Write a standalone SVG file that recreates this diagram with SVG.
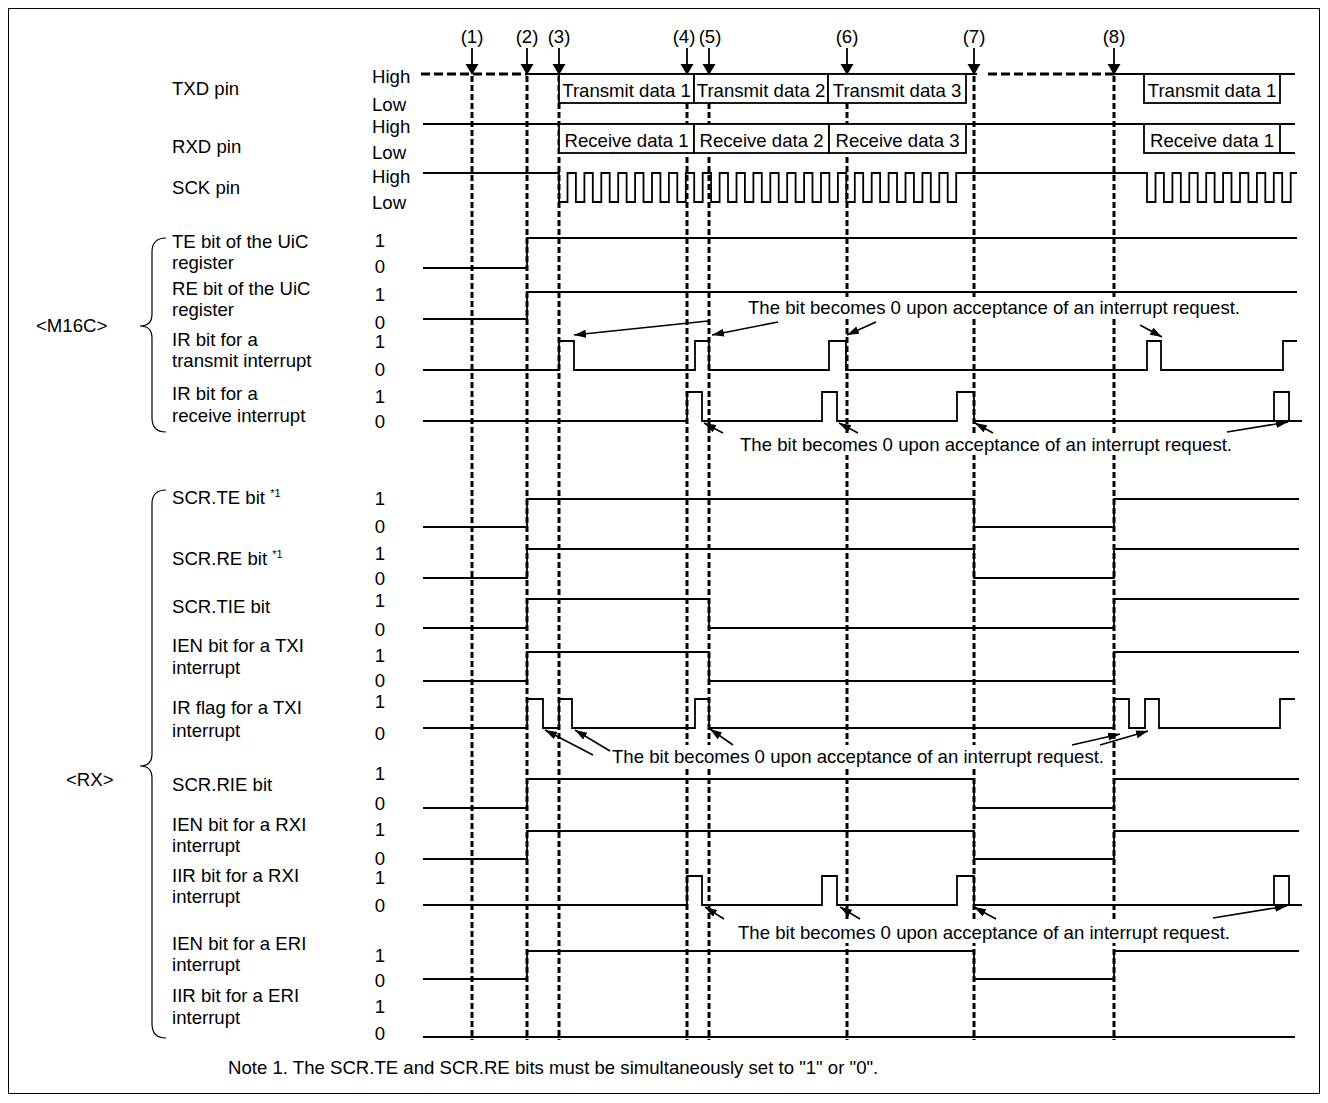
<svg xmlns="http://www.w3.org/2000/svg" width="1328" height="1103" viewBox="0 0 1328 1103">
<style>
text{font-family:"Liberation Sans",Arial,sans-serif;font-size:18.6px;fill:#000}
.num{text-anchor:middle}
.sup{font-size:11px}
.sig{fill:none;stroke:#000;stroke-width:1.8}
.vd{fill:none;stroke:#000;stroke-width:3;stroke-dasharray:6 3}
.hd{fill:none;stroke:#000;stroke-width:3;stroke-dasharray:9 4}
.box{fill:#fff;stroke:#000;stroke-width:1.8}
.bg{fill:#fff;stroke:none}
.ar{fill:none;stroke:#000;stroke-width:1.6;marker-end:url(#ah)}
.brace{fill:none;stroke:#000;stroke-width:1.2}
</style>
<defs>
<marker id="ah" viewBox="0 0 12 8" refX="12" refY="4" markerWidth="12" markerHeight="8" orient="auto" markerUnits="userSpaceOnUse"><path d="M0,0 L12,4 L0,8 z" fill="#000"/></marker>
</defs>
<rect x="8.5" y="8.5" width="1311" height="1085" fill="#fff" stroke="#000" stroke-width="1"/>

<g id="timing-markers">
<text class="num" x="472" y="43">(1)</text>
<text class="num" x="527" y="43">(2)</text>
<text class="num" x="559" y="43">(3)</text>
<text class="num" x="684" y="43">(4)</text>
<text class="num" x="710" y="43">(5)</text>
<text class="num" x="847" y="43">(6)</text>
<text class="num" x="974" y="43">(7)</text>
<text class="num" x="1114" y="43">(8)</text>
<path class="vd" d="M472,76 V1040 M527,76 V1040 M559,76 V1040 M687,76 V1040 M709,76 V1040 M847,76 V1040 M974,76 V1040 M1114,76 V1040"/>
<path d="M472,48 V65 M527,48 V65 M559,48 V65 M687,48 V65 M709,48 V65 M847,48 V65 M974,48 V65 M1114,48 V65" stroke="#000" stroke-width="1.8"/>
<path d="M465.5,64 h13 l-6.5,11 z M520.5,64 h13 l-6.5,11 z M552.5,64 h13 l-6.5,11 z M680.5,64 h13 l-6.5,11 z M702.5,64 h13 l-6.5,11 z M840.5,64 h13 l-6.5,11 z M967.5,64 h13 l-6.5,11 z M1107.5,64 h13 l-6.5,11 z" fill="#000"/>
</g>

<g id="labels">
<text x="172" y="95">TXD pin</text>
<text x="172" y="153">RXD pin</text>
<text x="172" y="194">SCK pin</text>
<text x="172" y="248">TE bit of the UiC</text>
<text x="172" y="269">register</text>
<text x="172" y="295">RE bit of the UiC</text>
<text x="172" y="316">register</text>
<text x="172" y="346">IR bit for a</text>
<text x="172" y="367">transmit interrupt</text>
<text x="172" y="400">IR bit for a</text>
<text x="172" y="422">receive interrupt</text>
<text x="172" y="504">SCR.TE bit <tspan class="sup" dy="-7">*1</tspan></text>
<text x="172" y="565">SCR.RE bit <tspan class="sup" dy="-7">*1</tspan></text>
<text x="172" y="613">SCR.TIE bit</text>
<text x="172" y="652">IEN bit for a TXI</text>
<text x="172" y="674">interrupt</text>
<text x="172" y="714">IR flag for a TXI</text>
<text x="172" y="737">interrupt</text>
<text x="172" y="791">SCR.RIE bit</text>
<text x="172" y="831">IEN bit for a RXI</text>
<text x="172" y="852">interrupt</text>
<text x="172" y="882">IIR bit for a RXI</text>
<text x="172" y="903">interrupt</text>
<text x="172" y="950">IEN bit for a ERI</text>
<text x="172" y="971">interrupt</text>
<text x="172" y="1002">IIR bit for a ERI</text>
<text x="172" y="1024">interrupt</text>
<text x="36" y="332">&lt;M16C&gt;</text>
<text x="66" y="786">&lt;RX&gt;</text>
<path class="brace" d="M166,238 Q152,238 152,252 L152,314 Q152,326 140,326 Q152,326 152,338 L152,418 Q152,432 166,432"/>
<path class="brace" d="M166,490 Q152,490 152,504 L152,754 Q152,766 140,766 Q152,766 152,778 L152,1024 Q152,1038 166,1038"/>
<text x="228" y="1074">Note 1. The SCR.TE and SCR.RE bits must be simultaneously set to "1" or "0".</text>
</g>

<g id="levels">
<text x="372" y="83">High</text><text x="372" y="111">Low</text>
<text x="372" y="133">High</text><text x="372" y="159">Low</text>
<text x="372" y="183">High</text><text x="372" y="209">Low</text>
<text class="num" x="380" y="247">1</text><text class="num" x="380" y="273">0</text>
<text class="num" x="380" y="301">1</text><text class="num" x="380" y="329">0</text>
<text class="num" x="380" y="348">1</text><text class="num" x="380" y="376">0</text>
<text class="num" x="380" y="403">1</text><text class="num" x="380" y="428">0</text>
<text class="num" x="380" y="505">1</text><text class="num" x="380" y="533">0</text>
<text class="num" x="380" y="560">1</text><text class="num" x="380" y="585">0</text>
<text class="num" x="380" y="607">1</text><text class="num" x="380" y="636">0</text>
<text class="num" x="380" y="662">1</text><text class="num" x="380" y="687">0</text>
<text class="num" x="380" y="708">1</text><text class="num" x="380" y="740">0</text>
<text class="num" x="380" y="780">1</text><text class="num" x="380" y="810">0</text>
<text class="num" x="380" y="836">1</text><text class="num" x="380" y="865">0</text>
<text class="num" x="380" y="884">1</text><text class="num" x="380" y="912">0</text>
<text class="num" x="380" y="962">1</text><text class="num" x="380" y="987">0</text>
<text class="num" x="380" y="1013">1</text><text class="num" x="380" y="1040">0</text>
</g>

<g id="txd">
<path class="hd" d="M421,74 H527 M988,74 H1114"/>
<path class="sig" d="M527,74 H977 M1114,74 H1295"/>
<rect class="box" x="559" y="74" width="135" height="29"/>
<rect class="box" x="694" y="74" width="134" height="29"/>
<rect class="box" x="828" y="74" width="138" height="29"/>
<rect class="box" x="1144" y="74" width="136" height="29"/>
<text class="num" x="626.5" y="97">Transmit data 1</text>
<text class="num" x="761" y="97">Transmit data 2</text>
<text class="num" x="897" y="97">Transmit data 3</text>
<text class="num" x="1212" y="97">Transmit data 1</text>
</g>

<g id="rxd">
<path class="sig" d="M423,124 H1295 M1280,153 H1295"/>
<rect class="box" x="559" y="124" width="135" height="29"/>
<rect class="box" x="694" y="124" width="135" height="29"/>
<rect class="box" x="829" y="124" width="137" height="29"/>
<rect class="box" x="1144" y="124" width="136" height="29"/>
<text class="num" x="626.5" y="147">Receive data 1</text>
<text class="num" x="761.5" y="147">Receive data 2</text>
<text class="num" x="897.5" y="147">Receive data 3</text>
<text class="num" x="1212" y="147">Receive data 1</text>
</g>

<g id="sck">
<path class="sig" d="M423,173 H559 V202 H567.5 V173 H575.9 V202 H584.4 V173 H592.8 V202 H601.3 V173 H609.7 V202 H618.2 V173 H626.6 V202 H635.1 V173 H643.5 V202 H652 V173 H660.4 V202 H668.9 V173 H677.3 V202 H685.8 V173 H694.2 V202 H702.7 V173 H711.1 V202 H719.6 V173 H728 V202 H736.5 V173 H744.9 V202 H753.4 V173 H761.8 V202 H770.3 V173 H778.7 V202 H787.2 V173 H795.6 V202 H804.1 V173 H812.5 V202 H821 V173 H829.4 V202 H837.9 V173 H846.3 V202 H854.8 V173 H863.2 V202 H871.7 V173 H880.1 V202 H888.6 V173 H897 V202 H905.5 V173 H913.9 V202 H922.4 V173 H930.8 V202 H939.3 V173 H947.7 V202 H956.2 V173 H1147 V202 H1155.5 V173 H1163.9 V202 H1172.4 V173 H1180.8 V202 H1189.3 V173 H1197.7 V202 H1206.2 V173 H1214.6 V202 H1223.1 V173 H1231.5 V202 H1240 V173 H1248.4 V202 H1256.9 V173 H1265.3 V202 H1273.8 V173 H1282.2 V202 H1290.7 V173 H1297"/>
</g>

<g id="annotation-bg">
<rect class="bg" x="744" y="297" width="500" height="21"/>
<rect class="bg" x="736" y="434" width="500" height="21"/>
<rect class="bg" x="608" y="745" width="500" height="22"/>
<rect class="bg" x="734" y="922" width="500" height="21"/>
</g>

<g id="m16c-signals">
<path class="sig" d="M423,268 H527 V238 H1297"/>
<path class="sig" d="M423,319 H527 V292 H1297"/>
<path class="sig" d="M423,370 H559 V341 H574 V370 H695 V341 H709 V370 H829 V341 H846 V370 H1147 V341 H1161 V370 H1283 V341 H1297"/>
<path class="sig" d="M423,421 H687 V392 H702 V421 H822 V392 H837 V421 H957 V392 H974 V421 H1302 M1274,421 V392 H1289 V421"/>
</g>

<g id="rx-signals">
<path class="sig" d="M423,527 H527 V499 H974 V527 H1114 V499 H1299"/>
<path class="sig" d="M423,578 H527 V549 H974 V578 H1114 V549 H1299"/>
<path class="sig" d="M423,628 H527 V599 H709 V628 H1114 V599 H1299"/>
<path class="sig" d="M423,681 H527 V652 H709 V681 H1114 V652 H1299"/>
<path class="sig" d="M423,728 H527 V699 H543 V728 H559 V699 H572 V728 H695 V699 H709 V728 H1114 V699 H1129 V728 H1145 V699 H1159 V728 H1280 V699 H1295"/>
<path class="sig" d="M423,808 H527 V779 H974 V808 H1114 V779 H1299"/>
<path class="sig" d="M423,859 H527 V831 H974 V859 H1114 V831 H1299"/>
<path class="sig" d="M423,905 H687 V876 H702 V905 H822 V876 H837 V905 H957 V876 H974 V905 H1302 M1274,905 V876 H1289 V905"/>
<path class="sig" d="M423,979 H527 V951 H974 V979 H1114 V951 H1299"/>
<path class="sig" d="M423,1037 H1295"/>
</g>

<g id="annotations">
<text x="748" y="314">The bit becomes 0 upon acceptance of an interrupt request.</text>
<text x="740" y="451">The bit becomes 0 upon acceptance of an interrupt request.</text>
<text x="612" y="763">The bit becomes 0 upon acceptance of an interrupt request.</text>
<text x="738" y="939">The bit becomes 0 upon acceptance of an interrupt request.</text>
</g>

<g id="connectors">
<line class="ar" x1="708" y1="321" x2="574" y2="335"/>
<line class="ar" x1="778" y1="322" x2="712" y2="335"/>
<line class="ar" x1="876" y1="322" x2="847" y2="335"/>
<line class="ar" x1="1140" y1="325" x2="1162" y2="337"/>
<line class="ar" x1="723" y1="433" x2="704" y2="423"/>
<line class="ar" x1="858" y1="433" x2="839" y2="423"/>
<line class="ar" x1="993" y1="433" x2="975" y2="423"/>
<line class="ar" x1="1227" y1="432" x2="1288" y2="422"/>
<line class="ar" x1="593" y1="755" x2="545" y2="730"/>
<line class="ar" x1="610" y1="751" x2="575" y2="730"/>
<line class="ar" x1="733" y1="745" x2="710" y2="729"/>
<line class="ar" x1="1072" y1="745" x2="1120" y2="734"/>
<line class="ar" x1="1100" y1="745" x2="1148" y2="731"/>
<line class="ar" x1="724" y1="919" x2="705" y2="907"/>
<line class="ar" x1="860" y1="919" x2="840" y2="907"/>
<line class="ar" x1="996" y1="919" x2="974" y2="907"/>
<line class="ar" x1="1213" y1="918" x2="1287" y2="906"/>
</g>
</svg>
